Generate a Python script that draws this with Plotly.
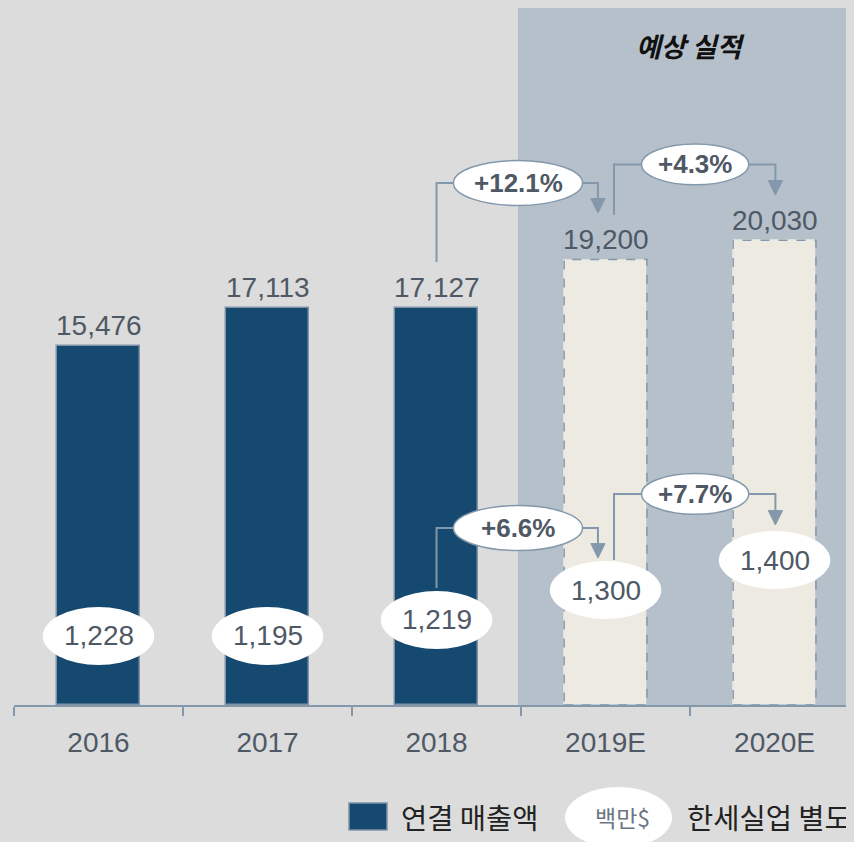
import plotly.graph_objects as go

# ---- data ----
years = ['2016', '2017', '2018', '2019E', '2020E']
sales = [15476, 17113, 17127, 19200, 20030]          # 연결 매출액 (백만$)
hansae = [1228, 1195, 1219, 1300, 1400]              # 한세실업 별도 (백만$)
forecast = [False, False, False, True, True]
sales_growth = ['+12.1%', '+4.3%']
hansae_growth = ['+6.6%', '+7.7%']

# ---- style ----
BG = '#dcdcdc'
SHADE = '#b5c0ca'
NAVY = '#16496f'
BEIGE = '#edebe1'
LINE = '#8498ab'
TEXT = '#4f5965'
NUM_FONT = 'Liberation Sans, Arial, sans-serif'
KR_FONT = 'Noto Sans CJK KR, sans-serif'

BAR_W = 0.49
Y_TOP = 30043
X_RANGE = [-0.5, 4.47]

# layout helpers (page pixel -> paper) for items outside the bars
def pxx(p):
    return (p - 14) / 840

def pxy(p):
    return (705 - p) / 697

fig = go.Figure()

fig.add_trace(go.Bar(
    x=years, y=sales, width=BAR_W,
    marker=dict(color=[BEIGE if f else NAVY for f in forecast],
                line=dict(color=['rgba(0,0,0,0)' if f else '#7e93a7' for f in forecast], width=1.5)),
    hoverinfo='skip', showlegend=False,
))

shapes = []
annotations = []

# forecast region
shapes.append(dict(type='rect', xref='x', yref='paper', x0=2.482, x1=X_RANGE[1], y0=0, y1=1,
                   fillcolor=SHADE, line=dict(width=0), layer='below'))

# dashed outline on forecast bars
for i, (v, f) in enumerate(zip(sales, forecast)):
    if f:
        shapes.append(dict(type='rect', xref='x', yref='y', x0=i - BAR_W / 2, x1=i + BAR_W / 2,
                           y0=0, y1=v, line=dict(color=LINE, width=1.5, dash='dash'),
                           fillcolor='rgba(0,0,0,0)', layer='above'))

# value labels on bars
for i, v in enumerate(sales):
    annotations.append(dict(x=i, y=v, xref='x', yref='y', text=f'{v:,}', showarrow=False,
                            yanchor='middle', yshift=20,
                            font=dict(family=NUM_FONT, size=28, color=TEXT)))

# white ellipses with 한세실업 values
ELL_Y = [2975, 2975, 3665, 4955, 6250]
ELL_HW, ELL_HH = 0.33, 1250
for i, (v, ey) in enumerate(zip(hansae, ELL_Y)):
    shapes.append(dict(type='circle', xref='x', yref='y', x0=i - ELL_HW, x1=i + ELL_HW,
                       y0=ey - ELL_HH, y1=ey + ELL_HH, fillcolor='white',
                       line=dict(width=0), layer='above'))
    annotations.append(dict(x=i, y=ey, xref='x', yref='y', text=f'{v:,}', showarrow=False,
                            font=dict(family=NUM_FONT, size=28, color=TEXT)))

# growth connectors: (label, x_left, x_right, y_start, y_line, y_tip, ellipse_cx, half_w, half_h)
connectors = [
    (sales_growth[0], 2.0, 2.955, 19095, 22500, 21207, 2.482, 0.382, 970),
    (sales_growth[1], 3.05, 4.005, 21121, 23300, 21983, 3.53, 0.317, 880),
    (hansae_growth[0], 2.0, 2.955, 5043, 7629, 6336, 2.482, 0.382, 970),
    (hansae_growth[1], 3.05, 4.005, 6250, 9100, 7759, 3.53, 0.317, 880),
]
HEAD_W, HEAD_H = 0.042, 620
for lab, xl, xr, ys, yl, yt, cx, hw, hh in connectors:
    shapes.append(dict(type='path', xref='x', yref='y',
                       path=f'M {xl},{ys} L {xl},{yl} L {xr},{yl} L {xr},{yt + HEAD_H}',
                       line=dict(color=LINE, width=2), layer='above'))
    shapes.append(dict(type='path', xref='x', yref='y',
                       path=f'M {xr - HEAD_W},{yt + HEAD_H} L {xr + HEAD_W},{yt + HEAD_H} L {xr},{yt} Z',
                       fillcolor=LINE, line=dict(color=LINE, width=1), layer='above'))
    shapes.append(dict(type='circle', xref='x', yref='y', x0=cx - hw, x1=cx + hw,
                       y0=yl - hh, y1=yl + hh, fillcolor='white',
                       line=dict(color=LINE, width=1.5), layer='above'))
    annotations.append(dict(x=cx, y=yl, xref='x', yref='y', text=f'<b>{lab}</b>', showarrow=False,
                            font=dict(family=NUM_FONT, size=26, color=TEXT)))

# forecast header
annotations.append(dict(x=3.5, y=pxy(45), xref='x', yref='paper', text='<b><i>예상 실적</i></b>',
                        xanchor='center', yanchor='middle', showarrow=False,
                        font=dict(family=KR_FONT, size=27, color='#111111')))

# legend
shapes.append(dict(type='rect', xref='paper', yref='paper', x0=pxx(349), x1=pxx(387),
                   y0=pxy(830), y1=pxy(803), fillcolor=NAVY, line=dict(color='#7e93a7', width=1.5)))
annotations.append(dict(x=pxx(399), y=pxy(816), xref='paper', yref='paper', text='연결 매출액',
                        xanchor='left', yanchor='middle', showarrow=False,
                        font=dict(family=KR_FONT, size=28.5, color='#222222')))
shapes.append(dict(type='circle', xref='paper', yref='paper', x0=pxx(565), x1=pxx(672),
                   y0=pxy(848), y1=pxy(787), fillcolor='white', line=dict(width=0)))
annotations.append(dict(x=pxx(622), y=pxy(817), xref='paper', yref='paper', text='백만$',
                        xanchor='center', yanchor='middle', showarrow=False,
                        font=dict(family=KR_FONT, size=23, color='#6b7582')))
annotations.append(dict(x=pxx(685), y=pxy(816), xref='paper', yref='paper', text='한세실업 별도',
                        xanchor='left', yanchor='middle', showarrow=False,
                        font=dict(family=KR_FONT, size=28.5, color='#222222')))

# the page adds an 8px body margin, so the figure is 8px smaller than the window
fig.update_layout(
    width=846, height=834,
    margin=dict(l=6, r=0, t=0, b=137),
    paper_bgcolor=BG, plot_bgcolor=BG,
    shapes=shapes, annotations=annotations,
    bargap=0, showlegend=False,
    xaxis=dict(type='category', range=X_RANGE, tickson='boundaries', ticks='outside', ticklen=9,
               tickwidth=1.5, tickcolor=LINE, showline=True, linecolor=LINE, linewidth=1.5,
               showgrid=False, zeroline=False, fixedrange=True,
               tickfont=dict(family=NUM_FONT, size=28, color=TEXT), ticklabelstandoff=12),
    yaxis=dict(range=[0, Y_TOP], visible=False, showgrid=False, fixedrange=True),
)

fig.write_html('out.html', post_script=f"document.body.style.backgroundColor = '{BG}';")
